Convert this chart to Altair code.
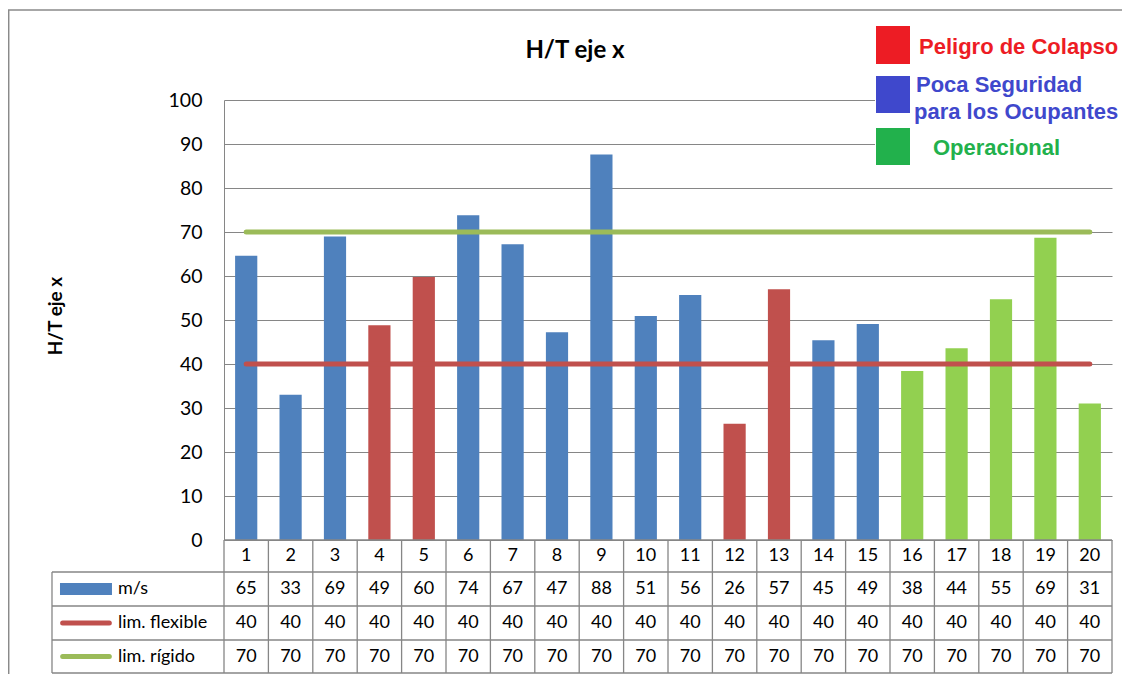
import altair as alt
import pandas as pd

# ---------------- data ----------------
categories = list(range(1, 21))
ms_values = [64.6, 33.0, 69.0, 48.8, 59.8, 73.8, 67.2, 47.2, 87.6, 50.9,
             55.7, 26.4, 57.0, 45.4, 49.1, 38.4, 43.6, 54.7, 68.7, 31.0]
ms_groups = ["Poca", "Poca", "Poca", "Peligro", "Peligro", "Poca", "Poca", "Poca", "Poca", "Poca",
             "Poca", "Peligro", "Peligro", "Poca", "Poca", "Oper", "Oper", "Oper", "Oper", "Oper"]
lim_flexible = [40] * 20
lim_rigido = [70] * 20
series_names = ["m/s", "lim. flexible", "lim. rígido"]
y_ticks = [0, 10, 20, 30, 40, 50, 60, 70, 80, 90, 100]
title_text = "H/T eje x"
legend_texts = ["Peligro de Colapso", "Poca Seguridad", "para los Ocupantes", "Operacional"]

# ---------------- styles ----------------
BLUE, RED, GREEN = "#4F81BD", "#C0504D", "#92D050"
LINE_RED, LINE_GREEN = "#C0504D", "#9BBB59"
GRID = "#868686"
FONT = "Lato"

W, H = 888, 440
xscale = alt.Scale(domain=[0, 20], nice=False, zero=False)
yscale = alt.Scale(domain=[0, 100], nice=False, zero=False)
yaxis = alt.Axis(values=y_ticks, grid=True, gridColor=GRID, gridWidth=1,
                 domain=True, domainColor=GRID, ticks=False,
                 labelFont=FONT, labelFontSize=19.5, labelColor="black",
                 labelPadding=22, title=None)


def X(f):
    return alt.X(f, type="quantitative", scale=xscale, axis=None)


def Y(f):
    return alt.Y(f, type="quantitative", scale=yscale, axis=yaxis)


# bars
bars_df = pd.DataFrame({
    "cat": categories,
    "x0": [c - 0.75 for c in categories],
    "x1": [c - 0.25 for c in categories],
    "v": ms_values,
    "g": ms_groups,
})
bars = alt.Chart(bars_df).mark_rect().encode(
    x=X("x0"), x2="x1", y=Y("v"), y2=alt.datum(0),
    color=alt.Color("g:N", scale=alt.Scale(domain=["Peligro", "Poca", "Oper"],
                                           range=[RED, BLUE, GREEN]), legend=None),
)

# limit lines
flex_df = pd.DataFrame({"x": [c - 0.5 for c in categories], "v": lim_flexible})
rig_df = pd.DataFrame({"x": [c - 0.5 for c in categories], "v": lim_rigido})
line_flex = alt.Chart(flex_df).mark_line(strokeWidth=5, strokeCap="round", color=LINE_RED).encode(
    x=X("x"), y=Y("v"))
line_rig = alt.Chart(rig_df).mark_line(strokeWidth=5, strokeCap="round", color=LINE_GREEN).encode(
    x=X("x"), y=Y("v"))

# ---------------- data table below ----------------
row_edges = [0, -7.27, -15.0, -22.73, -30.23]
left_edge = -3.874
hrules_df = pd.DataFrame({
    "x0": [0, left_edge, left_edge, left_edge, left_edge],
    "x1": [20] * 5,
    "y": row_edges,
})
hrules = alt.Chart(hrules_df).mark_rule(color=GRID, strokeWidth=1.3).encode(
    x=X("x0"), x2="x1", y=Y("y"))
vr_x = list(range(0, 21)) + [left_edge]
vr_y1 = [row_edges[-1]] * 21 + [row_edges[-1]]
vr_y0 = [0] * 21 + [row_edges[1]]
vrules_df = pd.DataFrame({"x": vr_x, "y0": vr_y0, "y1": vr_y1})
vrules = alt.Chart(vrules_df).mark_rule(color=GRID, strokeWidth=1.3).encode(
    x=X("x"), y=Y("y0"), y2="y1")

row_centers = [(row_edges[i] + row_edges[i + 1]) / 2 for i in range(4)]
cell_rows = []
for i, c in enumerate(categories):
    cell_rows.append({"x": c - 0.5, "y": row_centers[0], "t": str(c)})
    cell_rows.append({"x": c - 0.5, "y": row_centers[1], "t": f"{ms_values[i]:.0f}"})
    cell_rows.append({"x": c - 0.5, "y": row_centers[2], "t": f"{lim_flexible[i]:.0f}"})
    cell_rows.append({"x": c - 0.5, "y": row_centers[3], "t": f"{lim_rigido[i]:.0f}"})
cells = alt.Chart(pd.DataFrame(cell_rows)).mark_text(
    font=FONT, fontSize=18, color="black", align="center", baseline="middle").encode(
    x=X("x"), y=Y("y"), text="t:N")

key_x0, key_x1, label_x = -3.694, -2.523, -2.39
names_df = pd.DataFrame({"x": [label_x] * 3, "y": row_centers[1:], "t": series_names})
names = alt.Chart(names_df).mark_text(
    font=FONT, fontSize=18, color="black", align="left", baseline="middle").encode(
    x=X("x"), y=Y("y"), text="t:N")
key_bar = alt.Chart(pd.DataFrame({"x0": [key_x0], "x1": [key_x1],
                                  "y0": [row_centers[1] - 1.36], "y1": [row_centers[1] + 1.36]})
                    ).mark_rect(color=BLUE).encode(x=X("x0"), x2="x1", y=Y("y0"), y2="y1")
key_flex = alt.Chart(pd.DataFrame({"x0": [key_x0 + 0.06], "x1": [key_x1 - 0.06], "y": [row_centers[2]]})
                     ).mark_rule(strokeWidth=5, strokeCap="round", color=LINE_RED).encode(
    x=X("x0"), x2="x1", y=Y("y"))
key_rig = alt.Chart(pd.DataFrame({"x0": [key_x0 + 0.06], "x1": [key_x1 - 0.06], "y": [row_centers[3]]})
                    ).mark_rule(strokeWidth=5, strokeCap="round", color=LINE_GREEN).encode(
    x=X("x0"), x2="x1", y=Y("y"))

# ---------------- annotations (pixel positions) ----------------
one = pd.DataFrame({"a": [0]})


def text_layer(t, x, y, **kw):
    return alt.Chart(one).mark_text(**kw).encode(
        x=alt.value(x), y=alt.value(y), text=alt.value(t))


def rect_layer(x, x2, y, y2, **kw):
    return alt.Chart(one).mark_rect(**kw).encode(
        x=alt.value(x), x2=alt.value(x2), y=alt.value(y), y2=alt.value(y2))


title = text_layer(title_text, 351, -49, font=FONT, fontSize=24, fontWeight="bold",
                   color="black", align="center", baseline="middle")
ytitle = text_layer(title_text, -168, 216, font=FONT, fontSize=19, fontWeight="bold",
                    color="black", align="center", baseline="middle", angle=270)

LFONT = "Liberation Sans"
legend_bg = rect_layer(651, 920, -86, 70, color="white")
sq_red = rect_layer(652, 686, -74, -36, color="#ED1C24")
sq_blue = rect_layer(652, 686, -24, 13, color="#3F48CC")
sq_green = rect_layer(652, 686, 28, 65, color="#22B14C")
lt1 = text_layer(legend_texts[0], 695, -53, font=LFONT, fontSize=22, fontWeight="bold",
                 color="#ED1C24", align="left", baseline="middle")
lt2 = text_layer(legend_texts[1], 692, -15, font=LFONT, fontSize=22, fontWeight="bold",
                 color="#3F48CC", align="left", baseline="middle")
lt3 = text_layer(legend_texts[2], 690, 12, font=LFONT, fontSize=22, fontWeight="bold",
                 color="#3F48CC", align="left", baseline="middle")
lt4 = text_layer(legend_texts[3], 709, 48, font=LFONT, fontSize=22, fontWeight="bold",
                 color="#22B14C", align="left", baseline="middle")

border = alt.Chart(one).mark_rect(filled=False, stroke="#8a8a8a", strokeWidth=1.5).encode(
    x=alt.value(-215.3), x2=alt.value(1200), y=alt.value(-90), y2=alt.value(900))

chart = alt.layer(
    bars, line_flex, line_rig, hrules, vrules, cells, names, key_bar, key_flex, key_rig,
    title, ytitle, legend_bg, sq_red, sq_blue, sq_green, lt1, lt2, lt3, lt4, border,
).properties(
    width=W, height=H,
    autosize=alt.AutoSizeParams(type="none"),
    padding={"left": 216, "top": 92, "right": 10, "bottom": 134},
    background="white",
).configure_view(stroke=None)

chart.save("out.html", embed_options={"renderer": "svg", "actions": False})
